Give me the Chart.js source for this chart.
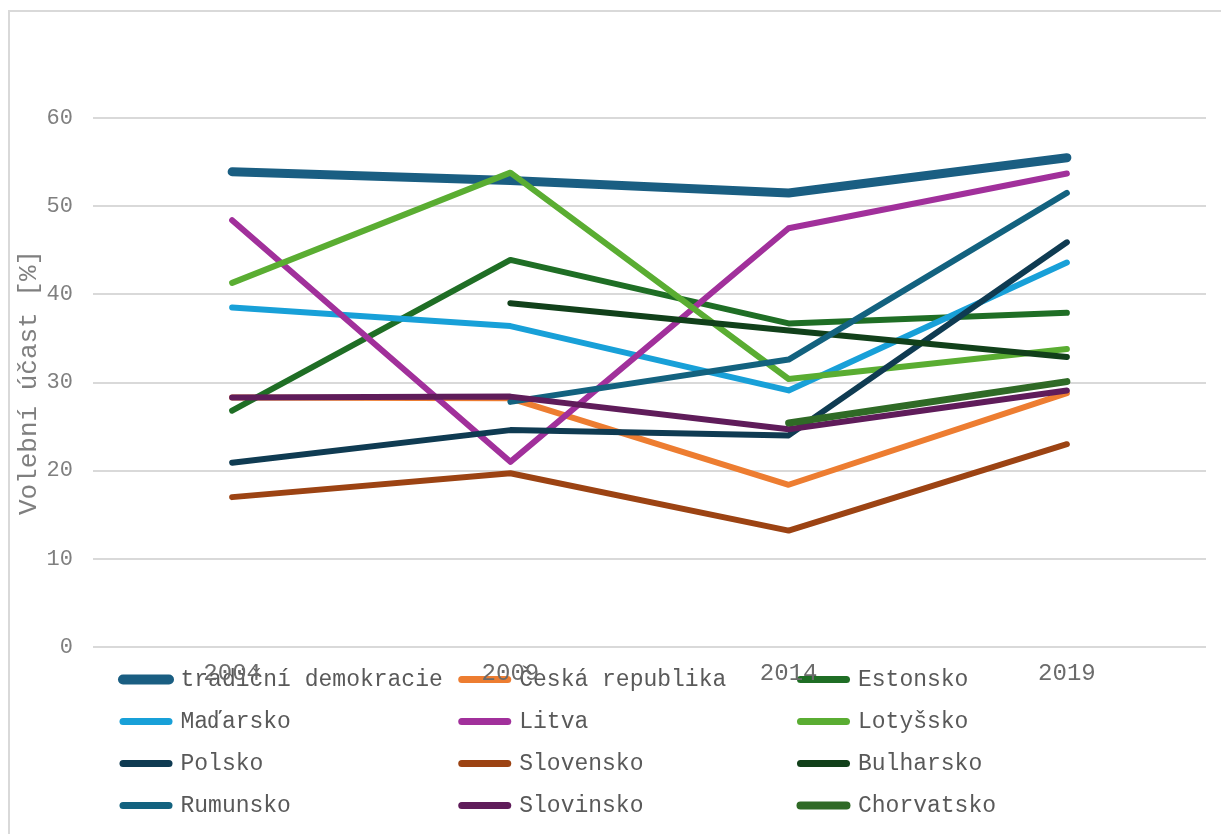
<!DOCTYPE html>
<html lang="cs">
<head>
<meta charset="utf-8">
<title>Volební účast</title>
<script src="https://cdn.jsdelivr.net/npm/chart.js@4.4.1/dist/chart.umd.min.js"></script>
<style>
  html, body { margin: 0; padding: 0; background: #fff; overflow: hidden; }
  #ramecek { position: absolute; left: 8px; top: 10px; width: 1300px; height: 900px; border: 2px solid #d9d9d9; }
  #obal { position: absolute; left: 0; top: 0; width: 1221px; height: 834px; }
</style>
</head>
<body>
<div id="ramecek"></div>
<div id="obal"><canvas id="grafUcast"></canvas></div>
<script>
// roky voleb do EP
const roky = ['2004', '2009', '2014', '2019'];

// volební účast v % (null = země se voleb neúčastnila)
const tradicniDemokracie = [53.9, 52.9, 51.5, 55.5];
const ceskaRepublika = [28.3, 28.2, 18.4, 28.8];
const estonsko = [26.8, 43.9, 36.7, 37.9];
const madarsko = [38.5, 36.4, 29.1, 43.6];
const litva = [48.4, 21.0, 47.5, 53.7];
const lotyssko = [41.3, 53.8, 30.4, 33.8];
const polsko = [20.9, 24.6, 24.0, 45.9];
const slovensko = [17.0, 19.7, 13.2, 23.0];
const bulharsko = [null, 39.0, 35.9, 32.9];
const rumunsko = [null, 27.8, 32.6, 51.5];
const slovinsko = [28.3, 28.4, 24.7, 29.1];
const chorvatsko = [null, null, 25.4, 30.1];

const nazvy = ['tradiční demokracie', 'Česká republika', 'Estonsko', 'Maďarsko', 'Litva', 'Lotyšsko',
  'Polsko', 'Slovensko', 'Bulharsko', 'Rumunsko', 'Slovinsko', 'Chorvatsko'];
const hodnoty = [tradicniDemokracie, ceskaRepublika, estonsko, madarsko, litva, lotyssko,
  polsko, slovensko, bulharsko, rumunsko, slovinsko, chorvatsko];
const barvy = ['#1a5e82', '#ed7d31', '#1f6e25', '#18a0d8', '#a1309b', '#5aad32',
  '#0f3b52', '#9c4313', '#11401a', '#13627f', '#5f1c5a', '#2f6a26'];
const tloustky = [9, 6, 6, 6, 6, 6, 6, 6, 6, 6, 6, 7];

const pismo = "'Courier New', 'Liberation Mono', monospace";

// legenda posunuta doprava, popisky osy x se nesmi oriznout
const upravaRozlozeni = {
  id: 'upravaRozlozeni',
  afterLayout(chart) {
    const l = chart.legend;
    const w = l.right - l.left;
    l.left = 104;
    l.right = 104 + w;
    const x = chart.scales.x;
    x.bottom = x.top + 60;
    x.height = 60;
  }
};

const ctx = document.getElementById('grafUcast').getContext('2d');

const graf = new Chart(ctx, {
  type: 'line',
  data: {
    labels: roky,
    datasets: nazvy.map((nazev, i) => ({
      label: nazev,
      data: hodnoty[i],
      borderColor: barvy[i],
      backgroundColor: barvy[i],
      borderWidth: tloustky[i],
      borderCapStyle: 'round',
      borderJoinStyle: 'round',
      pointRadius: 0,
      pointHoverRadius: 0,
      tension: 0,
      order: nazvy.length - i
    }))
  },
  options: {
    responsive: true,
    maintainAspectRatio: false,
    animation: false,
    layout: {
      padding: { top: 118, right: 15, bottom: 7, left: 0 }
    },
    plugins: {
      tooltip: { enabled: false },
      legend: {
        position: 'bottom',
        align: 'start',
        labels: {
          usePointStyle: true,
          pointStyleWidth: 46,
          padding: 19,
          color: '#595959',
          font: { family: pismo, size: 23 },
          generateLabels: (chart) => chart.data.datasets.map((ds, i) => ({
            text: ds.label.padEnd(19, ' '),
            fillStyle: ds.borderColor,
            strokeStyle: ds.borderColor,
            lineWidth: ds.borderWidth + 1,
            lineCap: 'round',
            pointStyle: 'line',
            fontColor: '#595959',
            hidden: false,
            datasetIndex: i
          }))
        }
      }
    },
    scales: {
      x: {
        offset: true,
        grid: { display: false, drawTicks: false },
        border: { display: false },
        ticks: {
          padding: 12,
          color: '#6b6b6b',
          font: { family: pismo, size: 24 }
        },
        afterFit: (axis) => { axis.height = 2; }
      },
      y: {
        min: 0,
        max: 60,
        grid: { color: '#d9d9d9', lineWidth: 2, drawTicks: false },
        border: { display: false },
        ticks: {
          stepSize: 10,
          padding: 20,
          color: '#7f7f7f',
          font: { family: pismo, size: 22 }
        },
        title: {
          display: true,
          text: 'Volební účast [%]',
          color: '#7f7f7f',
          padding: { top: 14, bottom: 0 },
          font: { family: pismo, size: 26, weight: 'normal' }
        },
        afterFit: (axis) => { axis.width = 93; }
      }
    }
  },
  plugins: [upravaRozlozeni]
});
</script>
</body>
</html>
